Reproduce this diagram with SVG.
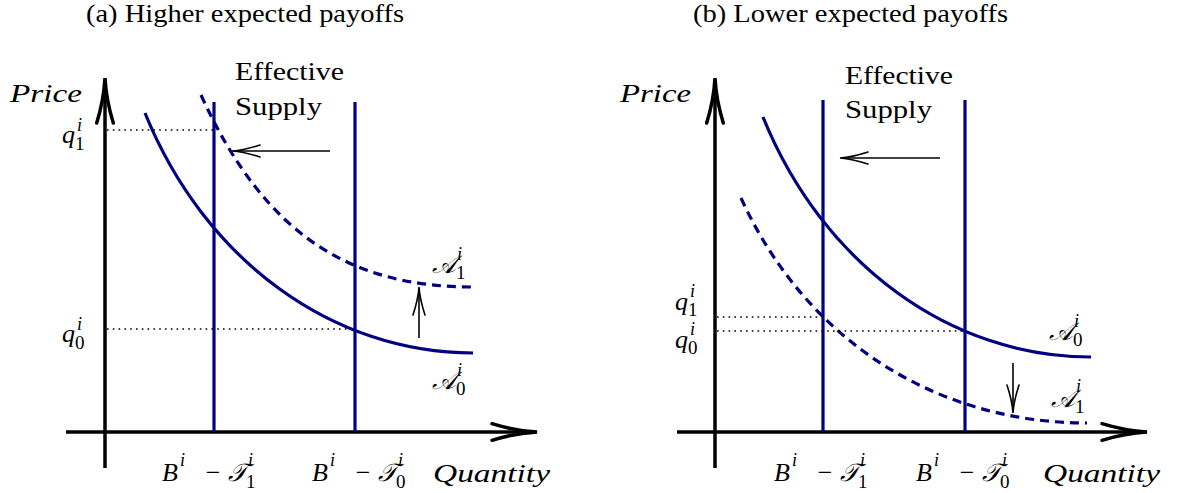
<svg xmlns="http://www.w3.org/2000/svg" width="1177" height="493" viewBox="0 0 1177 493">
<style>
.ax{stroke:#000;stroke-width:3.5;fill:none}
.cv{stroke:#000080;stroke-width:3.2;fill:none}
.dash{stroke-dasharray:9 6}
.dot{stroke:#000;stroke-width:1.6;fill:none;stroke-dasharray:1.6 4.2}
.sh{stroke:#000;stroke-width:1.6;fill:none}
text{font-family:"Liberation Serif","DejaVu Serif","DejaVu Sans",serif;fill:#000}
.tt{font-size:25px}
.lb{font-size:26px}
.mi{font-size:26px;font-style:italic}
.cal{font-size:25px;font-style:italic}
.sc{font-size:19px}
.sci{font-size:18px;font-style:italic}
</style>
<defs>
<marker id="axh" markerUnits="userSpaceOnUse" markerWidth="60" markerHeight="30" viewBox="-50 -15 60 30" refX="-8" refY="0" orient="auto" overflow="visible">
<path d="M-45,-8.3 Q-22,-1.2 0,0 Q-22,1.2 -45,8.3" fill="none" stroke="#000" stroke-width="3.5" stroke-linecap="round"/>
</marker>
<marker id="sah" markerUnits="userSpaceOnUse" markerWidth="40" markerHeight="20" viewBox="-35 -10 40 20" refX="-2" refY="0" orient="auto" overflow="visible">
<path d="M-28,-6 Q-12,-0.8 0,0 Q-12,0.8 -28,6" fill="none" stroke="#000" stroke-width="1.6" stroke-linecap="round"/>
</marker>
</defs>

<g id="titles">
<text class="tt" x="86" y="22" textLength="318" lengthAdjust="spacingAndGlyphs">(a) Higher expected payoffs</text>
<text class="tt" x="693" y="22" textLength="315" lengthAdjust="spacingAndGlyphs">(b) Lower expected payoffs</text>
</g>

<!-- Panel (a) -->
<g id="panel-a">
<g id="a-axes">
<line class="ax" x1="105" y1="468" x2="105" y2="86" marker-end="url(#axh)"/>
<line class="ax" x1="66" y1="432" x2="529" y2="432" marker-end="url(#axh)"/>
<text class="mi" x="10" y="102" textLength="72" lengthAdjust="spacingAndGlyphs">Price</text>
<text class="mi" x="433" y="482" textLength="117" lengthAdjust="spacingAndGlyphs">Quantity</text>
</g>
<g id="a-supply">
<line class="cv" x1="214" y1="102" x2="214" y2="432"/>
<line class="cv" x1="355" y1="102" x2="355" y2="432"/>
<text class="lb" x="235" y="80" textLength="109" lengthAdjust="spacingAndGlyphs">Effective</text>
<text class="lb" x="235" y="115" textLength="87" lengthAdjust="spacingAndGlyphs">Supply</text>
</g>
<g id="a-A0">
<path class="cv" d="M145,113 C205,261 333,353 473,353"/>
<text class="cal" x="432" y="389">𝒜</text><text class="sc" x="456" y="395">0</text><text class="sci" x="457" y="376">i</text>
</g>
<g id="a-A1">
<path class="cv dash" d="M201,95 C266,238 353,287 473,287"/>
<text class="cal" x="432" y="273">𝒜</text><text class="sc" x="456" y="279">1</text><text class="sci" x="457" y="260">i</text>
</g>
<g id="a-q">
<line class="dot" x1="107" y1="130" x2="214" y2="130"/>
<line class="dot" x1="107" y1="329" x2="355" y2="329"/>
<text class="mi" x="62" y="143">q</text><text class="sc" x="75" y="150">1</text><text class="sci" x="77" y="131">i</text>
<text class="mi" x="62" y="342">q</text><text class="sc" x="75" y="349">0</text><text class="sci" x="77" y="330">i</text>
</g>
<g id="a-B">
<g transform="translate(162,0)">
<text class="mi" x="0" y="481">B</text><text class="sci" x="18" y="466">i</text>
<text class="lb" x="51" y="481" text-anchor="middle">−</text>
<text class="cal" x="66" y="481">𝒯</text><text class="sc" x="84" y="488">1</text><text class="sci" x="86" y="466">i</text>
</g>
<g transform="translate(312,0)">
<text class="mi" x="0" y="481">B</text><text class="sci" x="18" y="466">i</text>
<text class="lb" x="51" y="481" text-anchor="middle">−</text>
<text class="cal" x="66" y="481">𝒯</text><text class="sc" x="84" y="488">0</text><text class="sci" x="86" y="466">i</text>
</g>
</g>
</g>

<!-- Panel (b) -->
<g id="panel-b">
<g id="b-axes">
<line class="ax" x1="715" y1="468" x2="715" y2="86" marker-end="url(#axh)"/>
<line class="ax" x1="677" y1="432" x2="1139" y2="432" marker-end="url(#axh)"/>
<text class="mi" x="620" y="102" textLength="71" lengthAdjust="spacingAndGlyphs">Price</text>
<text class="mi" x="1043" y="482" textLength="117" lengthAdjust="spacingAndGlyphs">Quantity</text>
</g>
<g id="b-supply">
<line class="cv" x1="823" y1="100" x2="823" y2="432"/>
<line class="cv" x1="965" y1="100" x2="965" y2="432"/>
<text class="lb" x="845" y="84" textLength="108" lengthAdjust="spacingAndGlyphs">Effective</text>
<text class="lb" x="845" y="118" textLength="87" lengthAdjust="spacingAndGlyphs">Supply</text>
</g>
<g id="b-A0">
<path class="cv" d="M763,117 C823,265 951,357 1091,357"/>
<text class="cal" x="1049" y="340">𝒜</text><text class="sc" x="1073" y="346">0</text><text class="sci" x="1074" y="327">i</text>
</g>
<g id="b-A1">
<path class="cv dash" d="M741,198 C806,341 937,423 1087,423"/>
<text class="cal" x="1051" y="407">𝒜</text><text class="sc" x="1075" y="413">1</text><text class="sci" x="1076" y="392">i</text>
</g>
<g id="b-q">
<line class="dot" x1="717" y1="317" x2="823" y2="317"/>
<line class="dot" x1="717" y1="331" x2="965" y2="331"/>
<text class="mi" x="675" y="310">q</text><text class="sc" x="688" y="316">1</text><text class="sci" x="690" y="297">i</text>
<text class="mi" x="675" y="348">q</text><text class="sc" x="688" y="354">0</text><text class="sci" x="690" y="335">i</text>
</g>
<g id="b-B">
<g transform="translate(774,0)">
<text class="mi" x="0" y="481">B</text><text class="sci" x="18" y="466">i</text>
<text class="lb" x="51" y="481" text-anchor="middle">−</text>
<text class="cal" x="66" y="481">𝒯</text><text class="sc" x="84" y="488">1</text><text class="sci" x="86" y="466">i</text>
</g>
<g transform="translate(916,0)">
<text class="mi" x="0" y="481">B</text><text class="sci" x="18" y="466">i</text>
<text class="lb" x="51" y="481" text-anchor="middle">−</text>
<text class="cal" x="66" y="481">𝒯</text><text class="sc" x="84" y="488">0</text><text class="sci" x="86" y="466">i</text>
</g>
</g>
</g>

<g id="connectors">
<line class="sh" x1="330" y1="151" x2="234" y2="151" marker-end="url(#sah)"/>
<line class="sh" x1="419" y1="338" x2="419" y2="289" marker-end="url(#sah)"/>
<line class="sh" x1="940" y1="158" x2="842" y2="158" marker-end="url(#sah)"/>
<line class="sh" x1="1013" y1="363" x2="1013" y2="411" marker-end="url(#sah)"/>
</g>
</svg>
